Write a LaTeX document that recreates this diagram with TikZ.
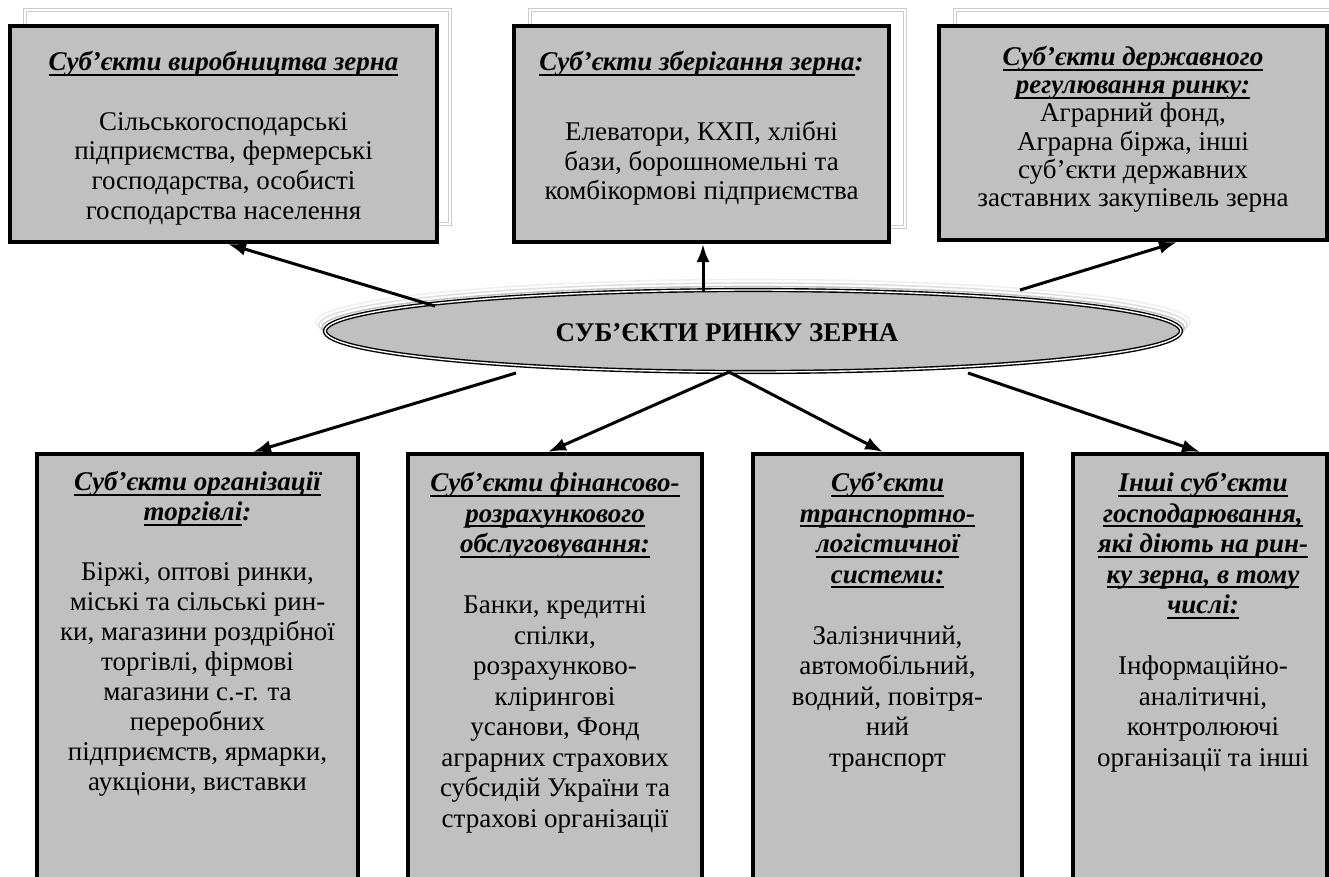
\documentclass[tikz,border=0pt]{standalone}
\usepackage{fontspec}
\setmainfont{Liberation Serif}
\usetikzlibrary{arrows.meta,shapes.geometric}
\definecolor{boxgray}{RGB}{192,192,192}
\newcommand{\hd}[1]{\begingroup\setbox0=\hbox{\bfseries\itshape #1}\rlap{\vrule height -3pt depth 5pt width \wd0}\box0\endgroup}
\tikzset{
  box/.style={draw=black, line width=4pt, fill=boxgray, inner sep=0pt, rectangle},
  shframe/.style={draw=gray!40, double=white, line width=0.9pt, double distance=2pt},
  txt/.style={align=center, inner sep=0pt, anchor=north, font=\fontsize{27}{29.8}\selectfont},
  arr/.style={line width=3pt, -{Latex[length=18pt,width=13pt]}},
}
\begin{document}
\begin{tikzpicture}[x={(1pt,0)}, y={(0,-1pt)}]
\useasboundingbox (0,0) rectangle (1329,876);
\clip (0,0) rectangle (1329,876);
\fill[white] (0,0) rectangle (1329,876);

% shadow frames of top boxes
\draw[shframe] (25,10) rectangle (450,224);
\draw[shframe] (530,10) rectangle (905,227);
\draw[shframe] (955,10) rectangle (1345,218);

% top boxes
\node[box, minimum width=427pt, minimum height=216pt] (b1) at (223.5,134) {};
\node[box, minimum width=375pt, minimum height=216pt] (b2) at (701.5,134) {};
\node[box, minimum width=388pt, minimum height=214pt] (b3) at (1133,133) {};

\node[txt] (t1) at (223.5,51) {\hd{Суб’єкти виробництва зерна}\\[29.8pt]
Сільськогосподарські\\ підприємства, фермерські\\ господарства, особисті\\ господарства населення};
\node[txt] (t2) at (701.5,51) {\hd{Суб’єкти зберігання зерна}\textbf{\textit{:}}\\[40pt]
Елеватори, КХП, хлібні\\ бази, борошномельні та\\ комбікормові підприємства};
\node[txt, font=\fontsize{27}{28.2}\selectfont] (t3) at (1133,46) {\hd{Суб’єкти державного}\\ \hd{регулювання ринку:}\\
Аграрний фонд,\\ Аграрна біржа, інші\\ суб’єкти державних\\ заставних закупівель зерна};

% ellipse shadow
\foreach \k/\c in {3/gray!12,2/gray!25,1/gray!45}{
  \draw[\c, line width=1.6pt] (753,331-3*\k) ellipse [x radius=428pt+3pt*\k, y radius=41pt+0.5pt*\k];
}
% central ellipse
\node[ellipse, draw=black, double=white, line width=1.4pt, double distance=1.4pt,
      fill=boxgray, minimum width=856pt, minimum height=82pt, inner sep=0pt] (e) at (753,331) {};
\node[inner sep=0pt, font=\fontsize{27}{30}\selectfont\bfseries] (et) at (727,333) {СУБ’ЄКТИ РИНКУ ЗЕРНА};

% bottom boxes
\node[box, minimum width=321pt, minimum height=446pt] (b4) at (197.5,677) {};
\node[box, minimum width=294pt, minimum height=446pt] (b5) at (555,677) {};
\node[box, minimum width=269pt, minimum height=446pt] (b6) at (887.5,677) {};
\node[box, minimum width=254pt, minimum height=446pt] (b7) at (1200,677) {};

\node[txt, font=\fontsize{27}{30}\selectfont] (t4) at (197.5,471) {\hd{Суб’єкти організації}\\ \hd{торгівлі}\textbf{\textit{:}}\\[30pt]
Біржі, оптові ринки,\\ міські та сільські рин-\\ ки, магазини роздрібної\\ торгівлі, фірмові\\ магазини с.-г. та\\ переробних\\ підприємств, ярмарки,\\ аукціони, виставки};
\node[txt, font=\fontsize{27}{30.5}\selectfont] (t5) at (555,472) {\hd{Суб’єкти фінансово-}\\ \hd{розрахункового}\\ \hd{обслуговування:}\\[30.5pt]
Банки, кредитні\\ спілки,\\ розрахунково-\\ клірингові\\ усанови, Фонд\\ аграрних страхових\\ субсидій України та\\ страхові організації};
\node[txt, font=\fontsize{27}{30.5}\selectfont] (t6) at (887.5,472) {\hd{Суб’єкти}\\ \hd{транспортно-}\\ \hd{логістичної}\\ \hd{системи:}\\[30.5pt]
Залізничний,\\ автомобільний,\\ водний, повітря-\\ ний\\ транспорт};
\node[txt, font=\fontsize{27}{30.5}\selectfont] (t7) at (1203,472) {\hd{Інші суб’єкти}\\ \hd{господарювання,}\\ \hd{які діють на рин-}\\ \hd{ку зерна, в тому}\\ \hd{числі:}\\[30.5pt]
Інформаційно-\\ аналітичні,\\ контролюючі\\ організації та інші};

% connector start points on the ellipse
\coordinate (s1) at (435,306);
\coordinate (s2) at (703,291);
\coordinate (s3) at (1020,290);
\coordinate (s4) at (516,373);
\coordinate (s5) at (729,372);
\coordinate (s7) at (968,373);

\draw[arr] (s1) -- ([xshift=4.5pt]b1.south);
\draw[arr] (s2) -- (s2 |- b2.south);
\draw[arr] (s3) -- ([xshift=44pt]b3.south);
\draw[arr] (s4) -- ([xshift=55.5pt]b4.north);
\draw[arr] (s5) -- ([xshift=-7pt]b5.north);
\draw[arr] (s5) -- ([xshift=-4.5pt]b6.north);
\draw[arr] (s7) -- (b7.north);
\end{tikzpicture}
\end{document}
